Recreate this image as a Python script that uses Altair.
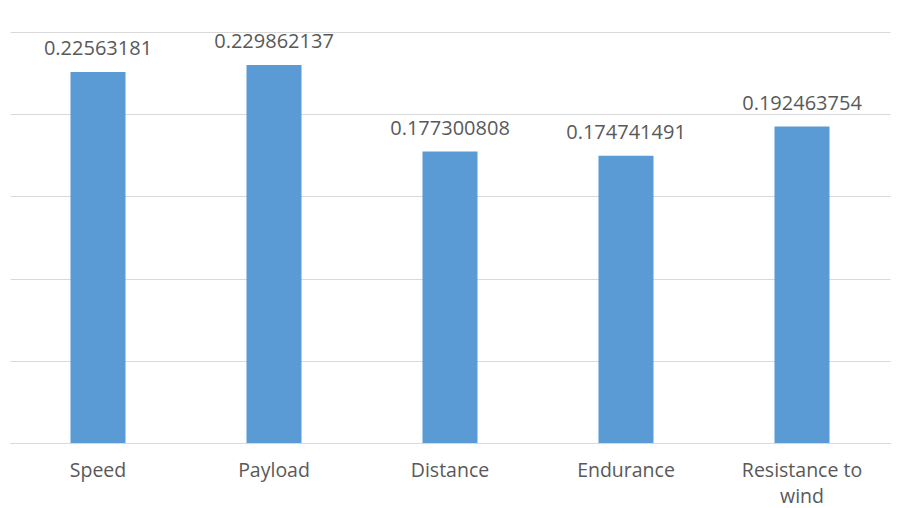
import altair as alt
import pandas as pd

categories = ["Speed", "Payload", "Distance", "Endurance", "Resistance to\nwind"]
weights = [0.22563181, 0.229862137, 0.177300808, 0.174741491, 0.192463754]
value_labels = ["0.22563181", "0.229862137", "0.177300808", "0.174741491", "0.192463754"]

df = pd.DataFrame({"category": categories, "weight": weights, "label": value_labels})

FONT = "Open Sans"
TEXT_COLOR = "#595959"

x = alt.X(
    "category:N",
    sort=categories,
    scale=alt.Scale(paddingInner=0.6875, paddingOuter=0.34375),
    axis=alt.Axis(
        title=None,
        labelAngle=0,
        labelFont=FONT,
        labelFontSize=19.5,
        labelColor=TEXT_COLOR,
        labelPadding=18,
        labelLineHeight=26,
        labelExpr="split(datum.label, '\\n')",
        ticks=False,
        domain=True,
        domainColor="#d9d9d9",
        domainWidth=1,
    ),
)
y = alt.Y(
    "weight:Q",
    scale=alt.Scale(domain=[0, 0.25], nice=False),
    axis=alt.Axis(
        title=None,
        labels=False,
        ticks=False,
        domain=False,
        values=[0, 0.05, 0.1, 0.15, 0.2, 0.25],
        gridColor="#d9d9d9",
        gridWidth=1,
    ),
)

bars = alt.Chart(df).mark_bar(color="#5b9bd5").encode(x=x, y=y)

text = alt.Chart(df).mark_text(
    baseline="bottom",
    dy=-13,
    font=FONT,
    fontSize=20,
    color=TEXT_COLOR,
).encode(x=alt.X("category:N", sort=categories), y="weight:Q", text="label:N")

chart = (
    alt.layer(bars, text)
    .properties(
        width=880,
        height=411,
        autosize=alt.AutoSizeParams(type="none"),
        padding={"left": 10, "top": 32, "right": 20, "bottom": 65},
        background="white",
    )
    .configure_view(stroke=None)
)

chart.save("out.html", embed_options={"renderer": "svg", "actions": False})
